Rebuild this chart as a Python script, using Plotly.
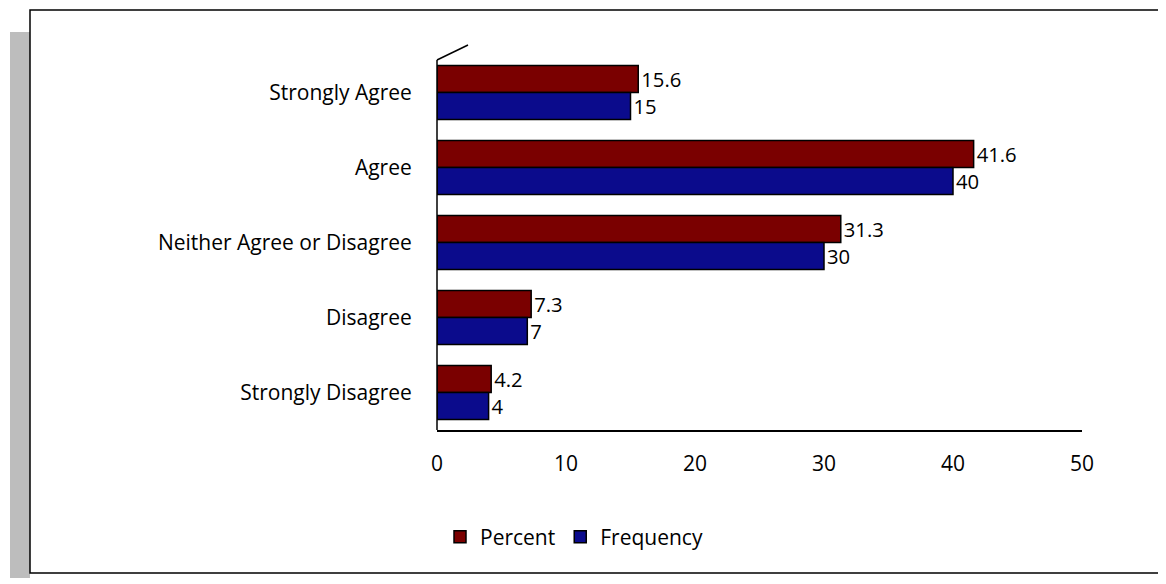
import plotly.graph_objects as go

categories = ["Strongly Agree", "Agree", "Neither Agree or Disagree", "Disagree", "Strongly Disagree"]
percent = [15.6, 41.6, 31.3, 7.3, 4.2]
frequency = [15, 40, 30, 7, 4]

W, H = 1166, 584
OFF = 8  # page body margin compensation
L, R, T, B = 437 - OFF, 84 + OFF, 55 - OFF, 154 + OFF
pw, ph = W - L - R, H - T - B
def px(x): return (x - OFF - L) / pw
def py(y): return (H - B - (y - OFF)) / ph

fig = go.Figure()
fig.add_trace(go.Bar(y=categories, x=percent, name="Percent", orientation="h",
                     marker=dict(color="#7a0000", line=dict(color="black", width=1.5)),
                     text=[str(v) for v in percent], textposition="outside",
                     textfont=dict(size=21, color="black"), cliponaxis=False))
fig.add_trace(go.Bar(y=categories, x=frequency, name="Frequency", orientation="h",
                     marker=dict(color="#0b0b8c", line=dict(color="black", width=1.5)),
                     text=[str(v) for v in frequency], textposition="outside",
                     textfont=dict(size=21, color="black"), cliponaxis=False))

shapes = [
    dict(type="rect", xref="paper", yref="paper", x0=px(10), x1=px(30), y0=py(578), y1=py(32),
         fillcolor="#bdbdbd", line=dict(width=0), layer="below"),
    dict(type="rect", xref="paper", yref="paper", x0=px(30), x1=px(1165), y0=py(573), y1=py(10),
         fillcolor="white", line=dict(color="black", width=1.5), layer="below"),
    dict(type="line", xref="paper", yref="paper", x0=0, x1=0, y0=0, y1=py(60),
         line=dict(color="black", width=1.5)),
    dict(type="line", xref="paper", yref="paper", x0=0, x1=px(468), y0=py(60), y1=py(45),
         line=dict(color="black", width=1.5)),
]

fig.update_layout(
    width=W, height=H, margin=dict(l=L, r=R, t=T, b=B),
    paper_bgcolor="white", plot_bgcolor="rgba(0,0,0,0)",
    barmode="group", bargap=0.28, bargroupgap=0,
    font=dict(family="Open Sans, DejaVu Sans", size=21, color="black"),
    xaxis=dict(range=[0, 50], dtick=10, showgrid=False, showline=True, linecolor="black",
               linewidth=1.5, ticks="outside", ticklen=14, tickcolor="rgba(0,0,0,0)",
               zeroline=False, tickfont=dict(size=21)),
    yaxis=dict(categoryorder="array", categoryarray=categories, range=[4.5, -0.5],
               showline=False, ticks="outside", ticklen=20, tickcolor="rgba(0,0,0,0)",
               tickfont=dict(size=21)),
    legend=dict(orientation="h", x=px(440), y=py(537), xanchor="left", yanchor="middle",
                font=dict(size=21), traceorder="normal"),
    shapes=shapes, showlegend=True,
)
fig.write_html("out.html")
